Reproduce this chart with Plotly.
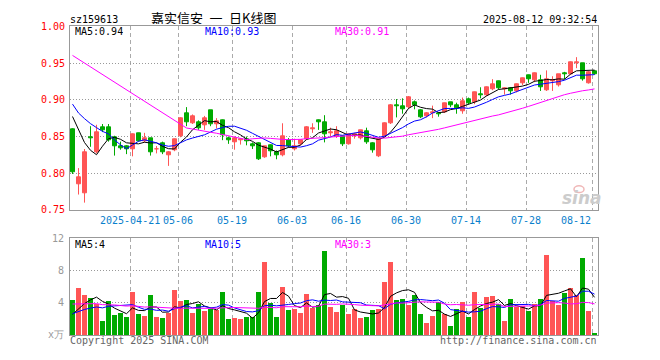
import plotly.graph_objects as go
import pandas as pd

W, H = 660, 360

# ---------------- data ----------------
tick_idx = [10, 18, 27, 37, 46, 56, 66, 76, 87]
tick_labels = ["2025-04-21", "05-06", "05-19", "06-03", "06-16",
               "06-30", "07-14", "07-28", "08-12"]

opens = [0.860, 0.785, 0.773, 0.849, 0.829, 0.862, 0.862, 0.849, 0.837, 0.836,
         0.832, 0.854, 0.843, 0.847, 0.832, 0.841, 0.824, 0.831, 0.850, 0.881,
         0.868, 0.870, 0.865, 0.885, 0.866, 0.872, 0.848, 0.842, 0.845, 0.846,
         0.839, 0.841, 0.822, 0.838, 0.829, 0.824, 0.845, 0.833, 0.839, 0.846,
         0.860, 0.872, 0.869, 0.855, 0.850, 0.850, 0.840, 0.850, 0.847, 0.857,
         0.841, 0.823, 0.850, 0.868, 0.893, 0.891, 0.890, 0.896, 0.886, 0.877,
         0.882, 0.881, 0.883, 0.896, 0.893, 0.884, 0.901, 0.896, 0.908, 0.906,
         0.914, 0.925, 0.914, 0.915, 0.911, 0.923, 0.933, 0.926, 0.927, 0.913,
         0.925, 0.920, 0.936, 0.935, 0.949, 0.949, 0.923, 0.939]
highs = [0.861, 0.807, 0.833, 0.864, 0.866, 0.867, 0.867, 0.851, 0.843, 0.838,
         0.854, 0.855, 0.855, 0.848, 0.837, 0.843, 0.830, 0.847, 0.876, 0.890,
         0.880, 0.872, 0.878, 0.886, 0.875, 0.873, 0.850, 0.850, 0.848, 0.850,
         0.842, 0.842, 0.837, 0.839, 0.831, 0.868, 0.848, 0.847, 0.846, 0.864,
         0.868, 0.873, 0.879, 0.862, 0.864, 0.851, 0.854, 0.855, 0.859, 0.862,
         0.842, 0.847, 0.869, 0.894, 0.901, 0.902, 0.905, 0.899, 0.887, 0.883,
         0.892, 0.883, 0.896, 0.897, 0.896, 0.903, 0.903, 0.911, 0.917, 0.918,
         0.928, 0.926, 0.917, 0.917, 0.922, 0.930, 0.934, 0.937, 0.934, 0.940,
         0.932, 0.935, 0.938, 0.952, 0.958, 0.950, 0.939, 0.940]
lows = [0.799, 0.771, 0.760, 0.836, 0.827, 0.856, 0.843, 0.824, 0.832, 0.826,
        0.823, 0.843, 0.842, 0.824, 0.827, 0.826, 0.810, 0.830, 0.849, 0.864,
        0.867, 0.859, 0.859, 0.864, 0.861, 0.845, 0.840, 0.832, 0.839, 0.838,
        0.833, 0.818, 0.821, 0.823, 0.819, 0.823, 0.835, 0.831, 0.838, 0.845,
        0.855, 0.859, 0.842, 0.850, 0.848, 0.837, 0.839, 0.847, 0.846, 0.840,
        0.828, 0.822, 0.850, 0.867, 0.876, 0.881, 0.888, 0.887, 0.875, 0.876,
        0.875, 0.877, 0.882, 0.890, 0.881, 0.881, 0.894, 0.894, 0.902, 0.905,
        0.913, 0.914, 0.907, 0.907, 0.910, 0.920, 0.923, 0.924, 0.912, 0.912,
        0.912, 0.918, 0.928, 0.934, 0.943, 0.926, 0.922, 0.934]
closes = [0.801, 0.794, 0.828, 0.847, 0.856, 0.859, 0.845, 0.837, 0.834, 0.832,
          0.853, 0.844, 0.848, 0.829, 0.833, 0.829, 0.828, 0.846, 0.875, 0.869,
          0.878, 0.861, 0.875, 0.867, 0.871, 0.852, 0.845, 0.847, 0.846, 0.843,
          0.836, 0.819, 0.836, 0.830, 0.824, 0.850, 0.836, 0.837, 0.845, 0.862,
          0.861, 0.869, 0.853, 0.856, 0.857, 0.840, 0.853, 0.853, 0.858, 0.842,
          0.831, 0.846, 0.868, 0.892, 0.891, 0.887, 0.903, 0.892, 0.876, 0.882,
          0.883, 0.880, 0.895, 0.893, 0.889, 0.898, 0.895, 0.910, 0.906, 0.917,
          0.921, 0.916, 0.915, 0.912, 0.921, 0.929, 0.928, 0.936, 0.917, 0.928,
          0.927, 0.934, 0.934, 0.951, 0.951, 0.928, 0.937, 0.935]
volumes = [4.36, 5.80, 4.96, 4.60, 3.76, 1.72, 4.12, 2.44, 2.72, 2.20,
           5.32, 2.56, 2.32, 4.96, 2.20, 2.08, 2.68, 5.56, 4.24, 4.36,
           2.68, 3.76, 2.92, 3.16, 3.04, 5.32, 1.96, 2.08, 1.96, 2.20,
           2.20, 5.32, 9.04, 3.88, 2.20, 5.92, 3.04, 3.16, 2.68, 5.08,
           3.28, 3.64, 10.36, 3.40, 2.80, 3.64, 2.56, 3.16, 2.08, 2.20,
           3.04, 3.16, 6.52, 9.04, 4.36, 4.48, 3.64, 4.96, 2.56, 1.48,
           2.32, 4.00, 2.56, 1.12, 3.16, 4.00, 2.20, 5.32, 3.28, 4.72,
           4.84, 3.76, 1.72, 4.48, 3.40, 3.52, 2.92, 3.76, 4.48, 9.88,
           4.12, 3.64, 5.20, 5.80, 4.96, 9.52, 2.92, 0.16]

# sessions before the visible window (only needed for the moving averages)
prior_closes = [0.950, 0.984, 1.003, 1.012, 1.015, 1.001, 0.993, 0.990, 0.988, 1.009,
                1.000, 1.004, 0.985, 0.989, 0.985, 0.984, 1.002, 1.031, 1.025, 0.920,
                0.915, 0.905, 0.915, 0.910, 0.910, 0.879, 0.920, 0.900, 0.886]
prior_volumes = [5.2, 4.1, 3.8, 4.6, 5.5, 4.0, 3.6, 4.9, 4.3, 3.9,
                 4.8, 5.1, 4.2, 3.7, 4.5, 4.4, 5.0, 4.1, 4.6, 4.5,
                 3.0, 2.5, 2.9, 2.4, 2.8, 2.2, 1.9, 2.3, 2.04]

ma_periods = [5, 10, 30]
ma_colors = ["#000000", "#0000ff", "#ff00ff"]
price_legend = ["MA5:0.94", "MA10:0.93", "MA30:0.91"]
vol_legend = ["MA5:4", "MA10:5", "MA30:3"]
price_ticks = [0.75, 0.80, 0.85, 0.90, 0.95, 1.00]
vol_ticks = [0, 4, 8, 12]
vol_tick_text = ["x万", "4", "8", "12"]

# ---------------- helpers ----------------
RED = "#ff5555"
GREEN = "#00aa00"
n = len(closes)
xs = list(range(n))
up = [c >= o for o, c in zip(opens, closes)]
cols = [RED if u else GREEN for u in up]


def moving_avg(prior, vals, k):
    s = pd.Series(list(prior) + list(vals), dtype=float)
    return s.rolling(k).mean().iloc[len(prior):].tolist()


def px_x(p):
    return p / W


def px_y(p):
    return 1 - p / H


X0, X1 = 70, 598
SLOT = (X1 - X0) / n          # pixels per session
OFF = 2.5 / SLOT              # grid line sits at left edge of the slot
xrange_ = [-OFF, n - OFF]
grid_x = [t - OFF for t in tick_idx]

P_TOP, P_BOT = 21.0, 211.0
V_TOP, V_BOT = 240.3, 340.3

fig = go.Figure()

# candle bodies
fig.add_trace(go.Bar(
    x=xs, y=[abs(c - o) for o, c in zip(opens, closes)],
    base=[min(o, c) for o, c in zip(opens, closes)],
    width=4 / SLOT, marker=dict(color=cols, line=dict(color=cols, width=1)),
    xaxis="x", yaxis="y", hoverinfo="skip", showlegend=False))

# wicks
for colr, flag in ((RED, True), (GREEN, False)):
    wx, wy = [], []
    for i in range(n):
        if up[i] == flag:
            wx += [i, i, None]
            wy += [lows[i], highs[i], None]
    fig.add_trace(go.Scatter(x=wx, y=wy, mode="lines",
                             line=dict(color=colr, width=1),
                             xaxis="x", yaxis="y", hoverinfo="skip",
                             showlegend=False))

# price MAs
for k, c in zip(ma_periods, ma_colors):
    fig.add_trace(go.Scatter(x=xs, y=moving_avg(prior_closes, closes, k),
                             mode="lines", line=dict(color=c, width=1),
                             xaxis="x", yaxis="y", hoverinfo="skip",
                             showlegend=False))

# volume bars
fig.add_trace(go.Bar(x=xs, y=volumes, width=5 / SLOT,
                     marker=dict(color=cols, line=dict(width=0)),
                     xaxis="x2", yaxis="y2", hoverinfo="skip",
                     showlegend=False))
for k, c in zip(ma_periods, ma_colors):
    fig.add_trace(go.Scatter(x=xs, y=moving_avg(prior_volumes, volumes, k),
                             mode="lines", line=dict(color=c, width=1),
                             xaxis="x2", yaxis="y2", hoverinfo="skip",
                             showlegend=False))

MONO = "DejaVu Sans Mono"
FRAME = "#999999"
axis_common = dict(showline=True, mirror=True, linecolor=FRAME, linewidth=1,
                   zeroline=False, fixedrange=True)

fig.update_layout(
    width=W, height=H, autosize=False,
    margin=dict(l=0, r=0, t=0, b=0),
    paper_bgcolor="white", plot_bgcolor="white",
    barmode="overlay", bargap=0,
    showlegend=False,
    xaxis=dict(domain=[px_x(X0), px_x(X1)], range=xrange_, anchor="y",
               tickvals=grid_x, showticklabels=False, ticks="",
               showgrid=True, gridcolor="#aaaaaa", griddash="4px,3px",
               gridwidth=1, **axis_common),
    yaxis=dict(domain=[px_y(P_BOT), px_y(P_TOP)], range=[0.75, 1.00],
               anchor="x", tickvals=price_ticks,
               ticktext=["%.2f" % v for v in price_ticks],
               tickfont=dict(family=MONO, size=10, color="#ff0000"),
               ticks="", ticklabelstandoff=2,
               showgrid=True, gridcolor="#999999", griddash="1px,2px",
               gridwidth=1, **axis_common),
    xaxis2=dict(domain=[px_x(X0), px_x(X1)], range=xrange_, anchor="y2",
                tickvals=grid_x, showticklabels=False, ticks="",
                showgrid=True, gridcolor="#aaaaaa", griddash="4px,3px",
                gridwidth=1, **axis_common),
    yaxis2=dict(domain=[px_y(V_BOT), px_y(V_TOP)], range=[0, 12],
                anchor="x2", tickvals=vol_ticks, ticktext=vol_tick_text,
                tickfont=dict(family=MONO, size=10, color="#999999"),
                ticks="", ticklabelstandoff=3,
                showgrid=True, gridcolor="#999999", griddash="1px,2px",
                gridwidth=1, **axis_common),
)

ann = []


def text(x, y, s, color="#000000", size=10, family=MONO, xanchor="left",
         xref="paper", height=None):
    d = dict(x=x, y=px_y(y), xref=xref, yref="paper", text=s,
             showarrow=False, xanchor=xanchor, yanchor="middle",
             font=dict(family=family, size=size, color=color),
             borderpad=0)
    if height:
        d["height"] = height
    ann.append(d)


text(px_x(69), 13, "sz159613", height=12)
text(px_x(213), 11, "嘉实信安\u2002一\u2002日K线图", size=13,
     family="Noto Sans CJK SC", xanchor="center", height=14)
text(px_x(598), 13, "2025-08-12 09:32:54", xanchor="right", height=12)

for s, c, xp in zip(price_legend, ma_colors, (74, 204, 334)):
    text(px_x(xp), 26.8, s, color=c, height=11)
for s, c, xp in zip(vol_legend, ma_colors, (74, 204, 334)):
    text(px_x(xp), 246.5, s, color=c, height=11)

for i, (g, lab) in enumerate(zip(grid_x, tick_labels)):
    last = i == len(grid_x) - 1
    text(g, 221.5, lab, color="#0a80cc", xref="x",
         xanchor="right" if last else "center", height=12)

text(px_x(69), 346, "Copyright 2025 SINA.COM", color="#666666", height=12)
text(px_x(598), 346, "http://finance.sina.com.cn", color="#666666",
     xanchor="right", height=12)

# sina watermark
ann.append(dict(x=px_x(582), y=px_y(199), xref="paper", yref="paper",
                text="<b><i>sina</i></b>", showarrow=False,
                font=dict(family="DejaVu Sans", size=17, color="#cccccc"),
                xanchor="center", yanchor="middle"))
fig.add_shape(type="circle", xref="paper", yref="paper",
              x0=px_x(574), x1=px_x(584), y0=px_y(193), y1=px_y(186),
              line=dict(color="#f0b8b8", width=1.5), fillcolor="rgba(0,0,0,0)")

fig.update_layout(annotations=ann)

fig.write_html(
    "out.html",
    config={"displayModeBar": False},
    post_script="document.body.style.margin='0';"
                "document.body.style.padding='0';"
                "document.body.style.overflow='hidden';",
)
